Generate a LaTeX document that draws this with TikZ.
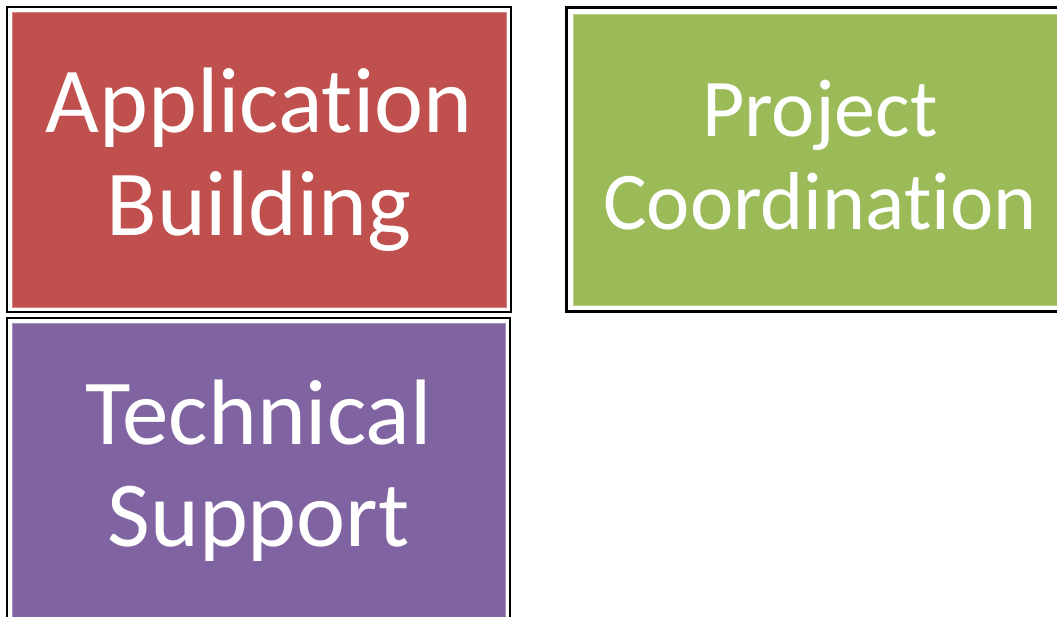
\documentclass[tikz,border=0pt]{standalone}
\usepackage{fontspec}
\setmainfont{Carlito}[Ligatures=NoCommon]
\usepackage{xcolor}
\usetikzlibrary{positioning,fit}

\definecolor{appred}{HTML}{C0504D}
\definecolor{projgreen}{HTML}{9BBB59}
\definecolor{techpurple}{HTML}{8064A2}

\tikzset{
  tile/.style={rectangle, outer sep=0pt, inner sep=0pt, align=center, text=white, line width=0.8pt},
  tileframe/.style={rectangle, draw=black, line width=2.4pt, inner sep=#1},
  tileframe/.default=5pt
}

\begin{document}
\begin{tikzpicture}[x=1pt, y=-1pt]
        % Page size of the reference (y runs downwards)
        \useasboundingbox (0,0) rectangle (1057,616);
        \clip (0,0) rectangle (1057,616);

        % --- Coloured tiles ---
        \node[tile, fill=appred, draw=appred!70!white, minimum width=494pt, minimum height=295pt,
              font=\fontsize{93}{103}\selectfont] (app) at (259,159.5) {Application\\Building};
        \node[tile, fill=projgreen, draw=projgreen!70!white, minimum width=494pt, minimum height=291pt,
              text depth=10pt, font=\fontsize{82}{93}\selectfont] (proj) at (820,159.5) {Project\\Coordination};
        \node[tile, fill=techpurple, draw=techpurple!70!white, minimum width=493pt, minimum height=295pt,
              font=\fontsize{93}{102}\selectfont] (tech) at (258.5,470.5) {Technical\\Support};

        % --- Black frames round the tiles ---
        \node[tileframe, fit=(app)] (appframe) {};
        \node[tileframe=6.5pt, fit=(proj)] (projframe) {};
        \node[tileframe, fit=(tech)] (techframe) {};

\end{tikzpicture}
\end{document}
